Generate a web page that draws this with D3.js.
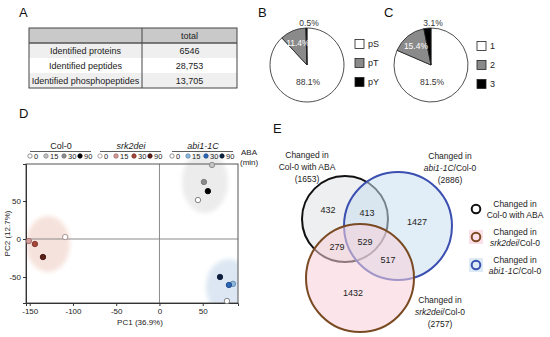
<!DOCTYPE html>
<html>
<head>
<meta charset="utf-8">
<script src="https://cdn.jsdelivr.net/npm/d3@7"></script>
<style>
  body { margin: 0; background: #fff; }
  svg { font-family: "Liberation Sans", Arial, sans-serif; }
  .panel { font-size: 13px; fill: #111; }
  .tbl { font-size: 9px; fill: #222; }
  .tick text { font-size: 8px; fill: #222; }
  .small { font-size: 8.5px; fill: #222; }
</style>
</head>
<body>
<div id="chart"></div>
<script>
// ---- data ----
var tableHeader = ["", "total"];
var tableRows = ["Identified proteins", "Identified peptides", "Identified phosphopeptides"];
var tableTotals = ["6546", "28,753", "13,705"];

var pieBLabels = ["pS", "pT", "pY"];
var pieBValues = [88.1, 11.4, 0.5];
var pieCLabels = ["1", "2", "3"];
var pieCValues = [81.5, 15.4, 3.1];

var pcaGroups = ["Col-0", "srk2dei", "abi1-1C"];
var pcaTimes = ["0", "15", "30", "90"];
// PC1 / PC2 per group, in time order 0, 15, 30, 90
var col0PC1 = [44.5, 60.7, 51.4, 56];
var col0PC2 = [51.3, 97.4, 75, 63];
var srkPC1 = [-109, -151, -144, -134.7];
var srkPC2 = [2.6, -2.6, -6.6, -23.7];
var abiPC1 = [78, 85, 80.3, 70];
var abiPC2 = [-81.6, -59, -60.5, -50];
var pcaXTicks = [-150, -100, -50, 0, 50];
var pcaYTicks = [-50, 0, 50];

var vennSets = ["Col-0 with ABA", "abi1-1C/Col-0", "srk2dei/Col-0"];
var vennTotals = [1653, 2886, 2757];
var vennRegions = ["Col only", "Col+abi", "abi only", "Col+srk", "all", "abi+srk", "srk only"];
var vennCounts = [432, 413, 1427, 279, 529, 517, 1432];

// ---- svg ----
var W = 550, H = 337;
var svg = d3.select("#chart").append("svg")
    .attr("width", W)
    .attr("height", H);

var defs = svg.append("defs");
defs.append("filter").attr("id", "soft")
    .attr("x", "-30%").attr("y", "-30%").attr("width", "160%").attr("height", "160%")
  .append("feGaussianBlur").attr("stdDeviation", 2.2);

// panel letters
[["A", 19, 17], ["B", 258, 17], ["C", 384, 17], ["D", 19, 118], ["E", 273, 133]].forEach(function(p){
    svg.append("text").attr("class", "panel").attr("x", p[1]).attr("y", p[2]).text(p[0]);
});

// ================= A : table =================
var tx0 = 29, tx1 = 237, tcol = 142, ty0 = 28, thead = 15, trow = 15;
var ta = svg.append("g");
ta.append("rect").attr("x", tx0).attr("y", ty0).attr("width", tx1 - tx0).attr("height", thead)
    .attr("fill", "#c9c9c9");
tableRows.forEach(function(r, i){
    var y = ty0 + thead + i * trow;
    ta.append("rect").attr("x", tx0).attr("y", y).attr("width", tx1 - tx0).attr("height", trow)
        .attr("fill", i % 2 == 0 ? "#efefef" : "#ffffff");
    ta.append("text").attr("class", "tbl").attr("x", (tx0 + tcol) / 2).attr("y", y + trow / 2)
        .attr("dy", "0.35em").attr("text-anchor", "middle").text(r);
    ta.append("text").attr("class", "tbl").attr("x", (tcol + tx1) / 2).attr("y", y + trow / 2)
        .attr("dy", "0.35em").attr("text-anchor", "middle").text(tableTotals[i]);
});
ta.append("text").attr("class", "tbl").attr("x", (tcol + tx1) / 2).attr("y", ty0 + thead / 2)
    .attr("dy", "0.35em").attr("text-anchor", "middle").text(tableHeader[1]);
var tbottom = ty0 + thead + tableRows.length * trow;
ta.append("rect").attr("x", tx0).attr("y", ty0).attr("width", tx1 - tx0).attr("height", tbottom - ty0)
    .attr("fill", "none").attr("stroke", "#444").attr("stroke-width", 1);
ta.append("line").attr("x1", tx0).attr("x2", tx1).attr("y1", ty0 + thead).attr("y2", ty0 + thead)
    .attr("stroke", "#555").attr("stroke-width", 1.5);
ta.append("line").attr("x1", tcol).attr("x2", tcol).attr("y1", ty0).attr("y2", tbottom)
    .attr("stroke", "#444").attr("stroke-width", 1);

// ================= B, C : pies =================
var pieFills = ["#ffffff", "#8a8a8a", "#000000"];
function drawPie(cx, cy, labels, values, legendX, legendY){
    var g = svg.append("g").attr("transform", "translate(" + cx + "," + cy + ")");
    var r = 37;
    var arcs = d3.pie().sort(null).value(function(d){ return d; })(values);
    var arc = d3.arc().innerRadius(0).outerRadius(r);
    g.selectAll("path").data(arcs).enter().append("path")
        .attr("d", arc)
        .attr("fill", function(d, i){ return pieFills[i]; })
        .attr("stroke", "#222").attr("stroke-width", 0.8);

    arcs.forEach(function(d, i){
        var pos;
        if (i == 0) {
            pos = [1, 17];
        } else if (i == 1) {
            pos = d3.arc().innerRadius(24).outerRadius(24).centroid(d);
        } else {
            pos = [2, -42];
        }
        g.append("text").attr("class", "small")
            .attr("x", pos[0]).attr("y", pos[1]).attr("dy", "0.35em")
            .attr("text-anchor", "middle")
            .style("fill", i == 1 ? "#fff" : "#333")
            .style("font-size", "8.5px")
            .text(values[i].toFixed(1) + "%");
    });

    labels.forEach(function(l, i){
        var y = legendY[i];
        svg.append("rect").attr("x", legendX).attr("y", y - 4.5).attr("width", 9).attr("height", 9)
            .attr("fill", pieFills[i]).attr("stroke", "#222").attr("stroke-width", 0.8);
        svg.append("text").attr("class", "small").attr("x", legendX + 13).attr("y", y)
            .attr("dy", "0.35em").style("font-size", "9px").text(l);
    });
}
drawPie(307, 65, pieBLabels, pieBValues, 355, [44, 63, 82]);
drawPie(431, 65, pieCLabels, pieCValues, 477, [46, 65, 84]);

// ================= D : PCA =================
var px0 = 26, px1 = 238, py0 = 164, py1 = 303;
var x = d3.scaleLinear().domain([-154.3, 90.8]).range([px0, px1]);
var y = d3.scaleLinear().domain([-84.2, 98.7]).range([py1, py0]);

var groupFill = [
    ["#ffffff", "#c4c4c4", "#8c8c8c", "#000000"],
    ["#ffffff", "#d49c9a", "#a8483c", "#5e2019"],
    ["#ffffff", "#8fb7da", "#2a66b0", "#0d1f3c"]
];
var groupStroke = [
    ["#777", "#888", "#777", "#000"],
    ["#a08a8a", "#9a6a66", "#7a3228", "#40120e"],
    ["#777", "#5a88b0", "#1f4a90", "#0d1f3c"]
];
var groupPC1 = [col0PC1, srkPC1, abiPC1];
var groupPC2 = [col0PC2, srkPC2, abiPC2];

// cluster ellipses, in data units
var ellipseCX = [52.6, -128.9, 80.3];
var ellipseCY = [75, -6.6, -63.2];
var ellipseRX = [26.6, 25.4, 26.6];
var ellipseRY = [40.8, 36.8, 36.8];
var ellipseFill = ["#ececec", "#f6e2dc", "#dde7f3"];

defs.append("clipPath").attr("id", "pcaclip").append("rect")
    .attr("x", px0).attr("y", py0 - 20).attr("width", px1 - px0).attr("height", py1 - py0 + 20);

var ge = svg.append("g").attr("clip-path", "url(#pcaclip)");
ellipseCX.forEach(function(c, i){
    ge.append("ellipse")
        .attr("cx", x(c)).attr("cy", y(ellipseCY[i]))
        .attr("rx", x(c + ellipseRX[i]) - x(c))
        .attr("ry", y(ellipseCY[i]) - y(ellipseCY[i] + ellipseRY[i]))
        .attr("fill", ellipseFill[i])
        .attr("filter", "url(#soft)");
});

// zero lines
svg.append("line").attr("x1", x(0)).attr("x2", x(0)).attr("y1", py0).attr("y2", py1)
    .attr("stroke", "#8a8a8a").attr("stroke-width", 1);
svg.append("line").attr("x1", px0).attr("x2", px1).attr("y1", y(0)).attr("y2", y(0))
    .attr("stroke", "#8a8a8a").attr("stroke-width", 1);

// frame
svg.append("rect").attr("x", px0).attr("y", py0).attr("width", px1 - px0).attr("height", py1 - py0)
    .attr("fill", "none").attr("stroke", "#555").attr("stroke-width", 1);

var xAxis = svg.append("g").attr("transform", "translate(0," + py1 + ")")
    .call(d3.axisBottom(x).tickValues(pcaXTicks).tickSize(3).tickPadding(2)
        .tickFormat(function(d){ return String(d); }));
var yAxis = svg.append("g").attr("transform", "translate(" + px0 + ",0)")
    .call(d3.axisLeft(y).tickValues(pcaYTicks).tickSize(3).tickPadding(2)
        .tickFormat(function(d){ return String(d); }));
[xAxis, yAxis].forEach(function(a){
    a.select(".domain").attr("stroke", "#333");
    a.selectAll(".tick line").attr("stroke", "#333");
});

svg.append("text").attr("class", "small").attr("x", (px0 + px1) / 2 + 8).attr("y", 325)
    .attr("text-anchor", "middle").style("font-size", "8px").text("PC1 (36.9%)");
svg.append("text").attr("class", "small")
    .attr("transform", "translate(10," + ((py0 + py1) / 2) + ") rotate(-90)")
    .attr("text-anchor", "middle").style("font-size", "8px").text("PC2 (12.7%)");

// points
groupPC1.forEach(function(xs, gi){
    xs.forEach(function(v, ti){
        svg.append("circle")
            .attr("cx", x(v)).attr("cy", y(groupPC2[gi][ti])).attr("r", 2.7)
            .attr("fill", groupFill[gi][ti])
            .attr("stroke", groupStroke[gi][ti]).attr("stroke-width", 0.9);
    });
});

// group legend above the plot
var legStart = [30, 100, 172];
var legOffset = [0, 16, 34, 50];
var legY = 156;
pcaGroups.forEach(function(gname, gi){
    var s = legStart[gi];
    svg.append("text").attr("class", "small").attr("x", s + 31).attr("y", 149)
        .attr("text-anchor", "middle").style("font-size", "9px")
        .style("font-style", gi == 0 ? "normal" : "italic")
        .text(gname);
    svg.append("line").attr("x1", s).attr("x2", s + 61).attr("y1", 151.5).attr("y2", 151.5)
        .attr("stroke", "#333").attr("stroke-width", 0.8);
    pcaTimes.forEach(function(t, ti){
        var mx = s + legOffset[ti];
        svg.append("circle").attr("cx", mx).attr("cy", legY).attr("r", 2.2)
            .attr("fill", groupFill[gi][ti])
            .attr("stroke", groupStroke[gi][ti]).attr("stroke-width", 0.8);
        svg.append("text").attr("class", "small").attr("x", mx + 4).attr("y", legY)
            .attr("dy", "0.35em").style("font-size", "7.5px").text(t);
    });
});
svg.append("text").attr("class", "small").attr("x", 241).attr("y", 155).style("font-size", "8px").text("ABA");
svg.append("text").attr("class", "small").attr("x", 240).attr("y", 165).style("font-size", "8px").text("(min)");

// ================= E : Venn =================
var vennCX = [345, 398, 360];
var vennCY = [219, 226, 278];
var vennR = [43, 54, 54];
var vennStrokeCol = ["#111111", "#3b4fb0", "#7a4a22"];
var vennFillCol = ["#e2e4e6", "#c8def0", "#f8d0da"];
var vennFillOp = [0.6, 0.55, 0.55];

var gv = svg.append("g");
vennCX.forEach(function(cx, i){
    gv.append("circle").attr("cx", cx).attr("cy", vennCY[i]).attr("r", vennR[i])
        .attr("fill", vennFillCol[i]).attr("fill-opacity", vennFillOp[i])
        .attr("stroke", vennStrokeCol[i]).attr("stroke-width", 2);
});

var regionX = [328, 367, 417, 337, 365, 388, 353];
var regionY = [210, 213, 222, 247, 242, 260, 293];
vennCounts.forEach(function(c, i){
    gv.append("text").attr("class", "small").attr("x", regionX[i]).attr("y", regionY[i])
        .attr("dy", "0.35em").attr("text-anchor", "middle").style("font-size", "9px").text(c);
});

function setLabel(g, cx, ys, name, total){
    var t = g.append("text").attr("class", "small").attr("text-anchor", "middle").style("font-size", "8.5px");
    t.append("tspan").attr("x", cx).attr("y", ys[0]).text("Changed in");
    var t2 = t.append("tspan").attr("x", cx).attr("y", ys[1]);
    var parts = name.split("/");
    if (parts.length > 1) {
        t2.append("tspan").style("font-style", "italic").text(parts[0]);
        t2.append("tspan").text("/" + parts[1]);
    } else {
        t2.text(name);
    }
    if (total != null) {
        t.append("tspan").attr("x", cx).attr("y", ys[2]).text("(" + total + ")");
    }
}
setLabel(gv, 307, [158, 170, 182], vennSets[0], vennTotals[0]);
setLabel(gv, 450, [159, 171, 183], vennSets[1], vennTotals[1]);
setLabel(gv, 440, [303, 315, 327], vennSets[2], vennTotals[2]);

// legend
var legEY = [209, 237, 265];
var legOrder = [0, 2, 1];
var legBg = [null, "#fbe1e7", "#dcebf6"];
legOrder.forEach(function(si, k){
    var ly = legEY[k];
    if (legBg[k]) {
        gv.append("rect").attr("x", 469).attr("y", ly - 7).attr("width", 14).attr("height", 14)
            .attr("fill", legBg[k]);
    }
    gv.append("circle").attr("cx", 476).attr("cy", ly).attr("r", 4.3)
        .attr("fill", "none").attr("stroke", vennStrokeCol[si]).attr("stroke-width", 2);
    setLabel(gv, 515, [ly - 2, ly + 9], vennSets[si], null);
});
</script>
</body>
</html>
